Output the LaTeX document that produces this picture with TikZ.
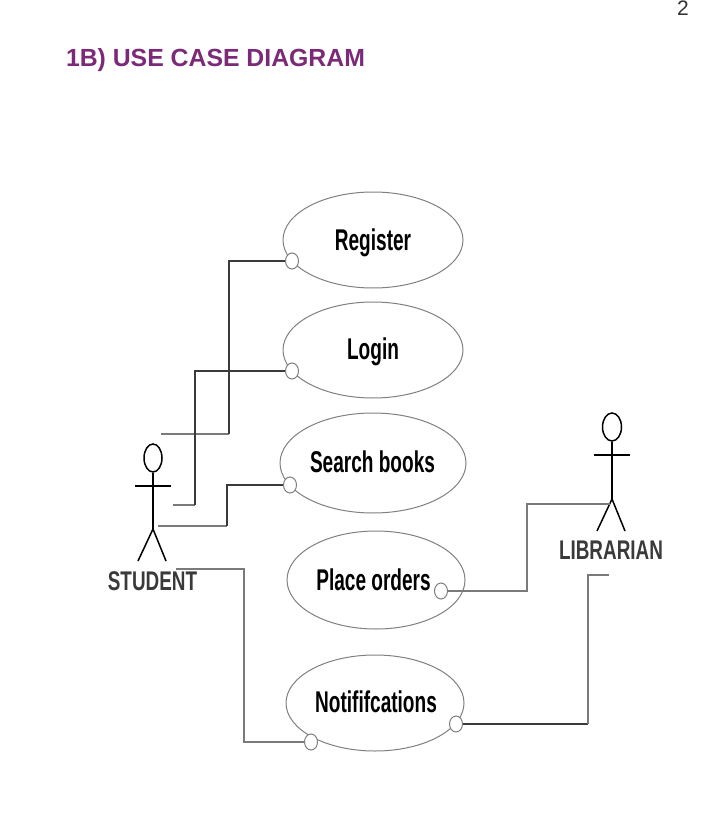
\documentclass[tikz,border=0pt]{standalone}
\usepackage{fontspec}
\setmainfont{Liberation Sans}
\usetikzlibrary{shapes.geometric}
\definecolor{titlepurple}{HTML}{7B2A78}
\definecolor{edgegray}{HTML}{808080}
\definecolor{wiredark}{HTML}{3A3A3A}
\definecolor{wiregray}{HTML}{7A7A7A}
\definecolor{labeldark}{HTML}{3A3A3A}
\newcommand{\uclabel}[1]{\scalebox{0.635}[1]{\fontsize{30}{32}\selectfont\bfseries #1}}
\newcommand{\actlabel}[1]{\scalebox{0.70}[1]{\fontsize{27}{29}\selectfont\bfseries\textcolor{labeldark}{#1}}}
\tikzset{
  usecase/.style={ellipse,draw=edgegray,line width=1pt,fill=white,inner sep=0pt},
  port/.style={ellipse,draw=edgegray,line width=1pt,fill=white,inner sep=0pt,minimum width=13pt,minimum height=16pt},
  wire/.style={line width=1.3pt,color=wiregray},
  wireb/.style={line width=1.2pt,color=wiredark},
  stick/.style={line width=1.5pt,black},
  txt/.style={inner sep=0pt,outer sep=0pt}
}
\begin{document}
\begin{tikzpicture}[x=1pt,y=-1pt]
\useasboundingbox (0,0) rectangle (714,824);
\node[txt,anchor=west] (pagenum) at (677,8) {\fontsize{21}{23}\selectfont\textcolor{black!80}{2}};
\node[txt,anchor=west] (title) at (66,60) {\fontsize{24.8}{27}\selectfont\bfseries\textcolor{titlepurple}{1B) USE CASE DIAGRAM}};

\node[usecase,minimum width=180pt,minimum height=96pt] (reg) at (373,240) {};
\node[usecase,minimum width=180pt,minimum height=96pt] (log) at (373,350) {};
\node[usecase,minimum width=186pt,minimum height=100pt] (sea) at (373,463) {};
\node[usecase,minimum width=178pt,minimum height=98pt] (pla) at (376,580) {};
\node[usecase,minimum width=178pt,minimum height=96pt] (not) at (375,703) {};
\node[txt] (regt) at (373,242.5) {\uclabel{Register}};
\node[txt] (logt) at (373,352) {\uclabel{Login}};
\node[txt] (seat) at (372.5,462) {\uclabel{Search books}};
\node[txt] (plat) at (373.5,580) {\uclabel{Place orders}};
\node[txt] (nott) at (376,702) {\uclabel{Notififcations}};

\node[port] (preg) at (292,261) {};
\node[port] (plog) at (292,371) {};
\node[port] (psea) at (290,485) {};
\node[port] (ppla) at (441,591) {};
\node[port] (pnl) at (311,742) {};
\node[port] (pnr) at (456,724) {};

% student
\node[ellipse,draw,line width=1.5pt,minimum width=18pt,minimum height=28pt,inner sep=0pt] (shead) at (153,458) {};
\coordinate (ships) at (153,529);
\draw[stick] (shead.south) -- (ships);
\draw[stick] (135,486) -- (171,486);
\draw[stick] (138,561) -- (ships) -- (166,561);
\node[txt] (student) at (152.5,581) {\actlabel{STUDENT}};

% librarian
\node[ellipse,draw,line width=1.5pt,minimum width=19pt,minimum height=28pt,inner sep=0pt] (lhead) at (612,427) {};
\coordinate (lhips) at (612,499);
\draw[stick] (lhead.south) -- (lhips);
\draw[stick] (594,455) -- (630,455);
\draw[stick] (597,531) -- (lhips) -- (625,531);
\node[txt] (librarian) at (611,550) {\actlabel{LIBRARIAN}};

% free wire ends
\coordinate (s1) at (161,434);
\coordinate (s2) at (173,505);
\coordinate (s3) at (158,526);
\coordinate (s4) at (176,569);
\coordinate (l1) at (610,504);
\coordinate (l2) at (609,575);

\draw[wire] (s1) -- (229,434);
\draw[wireb] (229,434) -- (229,261) -- (preg.west);
\draw[wire] (s2) -- (195,505);
\draw[wireb] (195,505) -- (195,371) -- (plog.west);
\draw[wire] (s3) -- (227,526);
\draw[wireb] (227,526) -- (227,485) -- (psea.west);
\draw[wire] (s4) -- (244,569) -- (244,742) -- (pnl.west);
\draw[wire] (ppla.east) -- (527,591) -- (527,504) -- (l1);
\draw[wireb] (pnr.east) -- (588,724);
\draw[wire] (588,724) -- (588,575) -- (l2);
\end{tikzpicture}
\end{document}
